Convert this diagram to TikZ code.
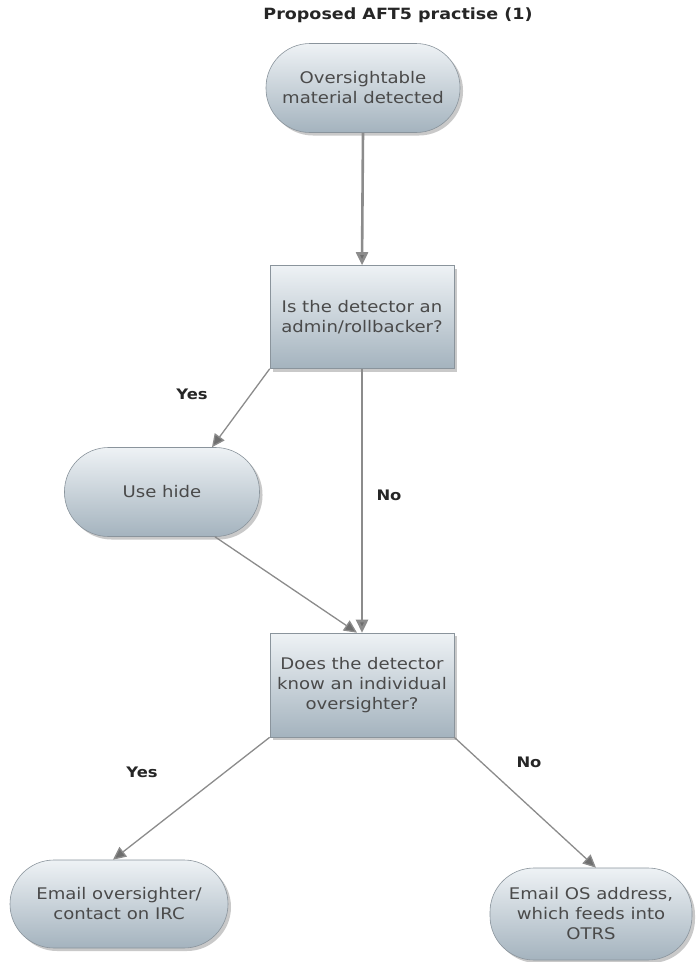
\documentclass[tikz,border=0pt]{standalone}
\usepackage{fontspec}
\setmainfont[FakeStretch=1.13]{DejaVu Sans}
\usetikzlibrary{arrows.meta,shadows}
\definecolor{fillTop}{HTML}{EEF2F5}
\definecolor{fillBot}{HTML}{A4B3BE}
\definecolor{bordc}{HTML}{8A949C}
\definecolor{txtc}{HTML}{4A4A4A}
\definecolor{arrc}{HTML}{8C8C8C}
\definecolor{tipc}{HTML}{6E6E6E}
\tikzset{
  flowbase/.style={draw=bordc, line width=0.6pt, top color=fillTop, bottom color=fillBot,
    text=txtc, align=center, font=\fontsize{16}{20}\selectfont, inner sep=2pt,
    drop shadow={shadow xshift=3pt, shadow yshift=-3pt, opacity=0.35, fill=black!60}},
  stadium/.style={flowbase, rounded corners=44pt},
  decision/.style={flowbase},
  arr/.style={draw=arrc, line width=1.3pt, -{Triangle[length=13pt,width=12pt,fill=tipc]}},
  arrthick/.style={draw=arrc, line width=2.6pt, -{Triangle[length=13pt,width=12pt,fill=tipc]}},
  lbl/.style={font=\fontsize{14.5}{17}\selectfont\bfseries, text=black!85},
}
\begin{document}
\begin{tikzpicture}[x=1pt,y=-1pt]
\useasboundingbox[fill=white] (0,0) rectangle (696,962);
\node[font=\fontsize{15.5}{18}\selectfont\bfseries, text=black!85] (title) at (398,15) {Proposed AFT5 practise (1)};
\node[stadium, minimum width=194pt, minimum height=89pt] (start) at (363,88) {Oversightable\\material detected};
\node[decision, minimum width=184pt, minimum height=103pt] (b1) at (362,317) {Is the detector an\\admin/rollbacker?};
\node[stadium, minimum width=195pt, minimum height=89pt] (hide) at (162,492) {Use hide};
\node[decision, minimum width=184pt, minimum height=104pt] (b2) at (362,685) {Does the detector\\know an individual\\oversighter?};
\node[stadium, minimum width=218pt, minimum height=88pt] (e1) at (119,904) {Email oversighter/\\contact on IRC};
\node[stadium, minimum width=202pt, minimum height=92pt] (e2) at (591,914) {Email OS address,\\which feeds into\\OTRS};

\draw[arrthick] (start.south) -- (b1.north);
\draw[arrthick] (b1.south) -- (b2.north);
\draw[arr] (b1.south west) -- ([xshift=50pt]hide.north);
\draw[arr] ([xshift=53pt]hide.south) -- ([xshift=-5pt]b2.north);
\draw[arr] (b2.south west) -- ([xshift=-6pt]e1.north);
\draw[arr] (b2.south east) -- ([xshift=5pt]e2.north);

\node[lbl] (yes1) at (192,394) {Yes};
\node[lbl] (no1) at (389,495) {No};
\node[lbl] (yes2) at (142,772) {Yes};
\node[lbl] (no2) at (529,762) {No};
\end{tikzpicture}
\end{document}
